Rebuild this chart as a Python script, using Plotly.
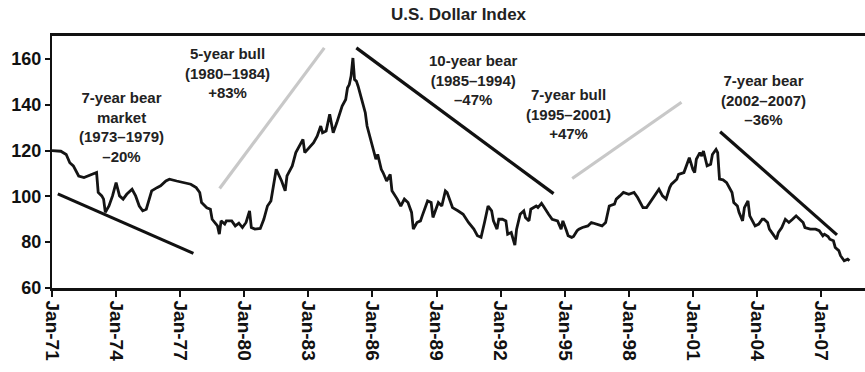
import plotly.graph_objects as go

# U.S. Dollar Index, month-end readings
dates = [
    "1971-01", "1971-06", "1971-09", "1971-11", "1972-01", "1972-04", "1972-07", "1972-11",
    "1973-02", "1973-03", "1973-05", "1973-06", "1973-07", "1973-09", "1973-11",
    "1974-01", "1974-03", "1974-05", "1974-07", "1974-10", "1974-12",
    "1975-02", "1975-04", "1975-06", "1975-08", "1975-09", "1975-12",
    "1976-02", "1976-05", "1976-07", "1976-11",
    "1977-04", "1977-07", "1977-10", "1977-12",
    "1978-01", "1978-04", "1978-06", "1978-07", "1978-10", "1978-11", "1978-12",
    "1979-02", "1979-03", "1979-06", "1979-08", "1979-10", "1979-12",
    "1980-02", "1980-04", "1980-05", "1980-07", "1980-10", "1980-12",
    "1981-02", "1981-04", "1981-05", "1981-07", "1981-10", "1981-12",
    "1982-01", "1982-04", "1982-06", "1982-07", "1982-10", "1982-11",
    "1983-02", "1983-04", "1983-06", "1983-08", "1983-09", "1983-11",
    "1984-01", "1984-03", "1984-05", "1984-07", "1984-08", "1984-10", "1984-11", "1984-12",
    "1985-01", "1985-02", "1985-03", "1985-04", "1985-05", "1985-07", "1985-09", "1985-10", "1985-12",
    "1986-01", "1986-03", "1986-04", "1986-05", "1986-06", "1986-07", "1986-09", "1986-11", "1986-12",
    "1987-03", "1987-05", "1987-07", "1987-09", "1987-11", "1987-12",
    "1988-02", "1988-04", "1988-05", "1988-07", "1988-08", "1988-10", "1988-11",
    "1989-01", "1989-02", "1989-04", "1989-06", "1989-07", "1989-09", "1989-10",
    "1990-01", "1990-04", "1990-07", "1990-10", "1990-12",
    "1991-02", "1991-04", "1991-06", "1991-08", "1991-09", "1991-11", "1991-12",
    "1992-02", "1992-04", "1992-05", "1992-07", "1992-09", "1992-10", "1992-12",
    "1993-02", "1993-03", "1993-05", "1993-06", "1993-09", "1993-10", "1993-12",
    "1994-01", "1994-03", "1994-04", "1994-06", "1994-09", "1994-11", "1994-12",
    "1995-02", "1995-03", "1995-05", "1995-06", "1995-08", "1995-09", "1995-11",
    "1996-01", "1996-02", "1996-04", "1996-07", "1996-10", "1996-12",
    "1997-01", "1997-02", "1997-05", "1997-06", "1997-08", "1997-10",
    "1998-01", "1998-04", "1998-06", "1998-09", "1998-11",
    "1999-02", "1999-04", "1999-06", "1999-08", "1999-10", "1999-12",
    "2000-01", "2000-04", "2000-05", "2000-08", "2000-10", "2000-11",
    "2001-01", "2001-02", "2001-03", "2001-05", "2001-06", "2001-07", "2001-09", "2001-11", "2001-12",
    "2002-02", "2002-03", "2002-04", "2002-06", "2002-08", "2002-11", "2002-12",
    "2003-02", "2003-03", "2003-05", "2003-06", "2003-08", "2003-09", "2003-12",
    "2004-02", "2004-04", "2004-05", "2004-07", "2004-08", "2004-10", "2004-12",
    "2005-01", "2005-03", "2005-05", "2005-07", "2005-09", "2005-11",
    "2006-01", "2006-03", "2006-04", "2006-07", "2006-10", "2006-12",
    "2007-02", "2007-03", "2007-05", "2007-06", "2007-08", "2007-09", "2007-11", "2007-12",
    "2008-02", "2008-04", "2008-05",
]
index_values = [
    120.0, 119.7, 118.3, 114.7, 113.3, 108.9, 108.2, 109.6,
    110.4, 101.7, 100.2, 98.8, 93.0, 95.8, 100.2,
    106.0, 100.2, 98.8, 100.9, 103.1, 100.2,
    95.8, 93.7, 94.4, 100.2, 102.4, 103.8,
    104.6, 106.7, 107.5, 106.7,
    106.0, 105.3, 103.8, 101.7,
    97.3, 95.0, 94.4, 90.0, 87.1, 83.5, 89.3,
    87.9, 89.3, 89.3, 87.1, 88.3, 86.4,
    88.6, 93.7, 86.4, 85.7, 86.0, 90.0,
    95.8, 98.0, 103.1, 111.8, 106.7, 102.4,
    108.9, 113.3, 119.1, 120.5, 124.9, 119.1,
    122.0, 123.4, 126.3, 130.7, 127.8, 128.5,
    135.8, 127.8, 132.1, 136.5, 139.4, 142.3, 147.4, 148.8,
    152.5, 160.4, 151.0, 150.3, 148.1, 142.3, 136.5, 130.7, 124.9,
    122.0, 116.2, 118.3, 114.7, 111.8, 110.4, 106.7, 109.6, 102.4,
    98.8, 95.8, 98.8, 97.3, 93.0, 85.7,
    88.6, 89.3, 91.5, 95.8, 98.0, 97.3, 90.8,
    95.1, 97.3, 95.8, 102.4, 101.7, 97.3, 95.1,
    93.7, 92.2, 88.6, 85.7, 82.8,
    82.1, 88.6, 95.8, 93.7, 89.3, 85.7, 90.0,
    90.0, 89.3, 83.5, 84.2, 78.7, 85.7, 92.2,
    93.7, 90.8, 89.3, 94.4, 95.8, 95.1, 97.0,
    95.8, 93.0, 92.2, 90.0, 89.3, 85.7, 89.3,
    85.0, 82.8, 82.1, 82.5, 85.0, 85.7, 86.4,
    87.1, 87.1, 88.6, 87.9, 87.1, 88.6,
    93.0, 95.8, 96.6, 98.8, 100.2, 101.7,
    100.9, 101.7, 99.5, 95.1, 95.1,
    98.8, 100.9, 103.1, 100.2, 98.8, 103.8,
    105.3, 107.5, 109.6, 110.4, 114.7, 116.9,
    111.8, 110.4, 116.2, 119.1, 117.6, 119.8, 113.3, 114.0, 118.3,
    120.5, 119.1, 107.5, 107.2, 106.0, 101.7, 97.3,
    95.8, 93.0, 89.3, 95.1, 98.0, 91.5, 87.1,
    87.9, 90.0, 90.0, 88.6, 85.7, 83.5, 81.3,
    84.2, 86.4, 90.0, 88.6, 90.0, 91.5,
    90.0, 88.6, 86.4, 85.7, 85.7, 85.0,
    82.8, 83.5, 82.5, 81.3, 80.6, 77.7, 76.3, 74.1,
    71.9, 72.6, 71.9,
]

# Trend lines for each bull / bear phase: (start date, end date), (start value, end value), colour
trend_dates = [
    ("1971-04-10", "1977-08-15"),
    ("1978-11-06", "1983-10-01"),
    ("1985-04-01", "1994-06-25"),
    ("1995-05-10", "2000-06-20"),
    ("2002-04-12", "2007-10-01"),
]
trend_values = [
    (101.1, 75.1),
    (103.4, 164.8),
    (164.8, 101.2),
    (107.8, 141.1),
    (128.2, 83.2),
]
trend_colors = ["#111111", "#c8c8c8", "#111111", "#c8c8c8", "#111111"]

# Phase labels and their anchor points
phase_labels = [
    "7-year bear<br>market<br>(1973–1979)<br>–20%",
    "5-year bull<br>(1980–1984)<br>+83%",
    "10-year bear<br>(1985–1994)<br>–47%",
    "7-year bull<br>(1995–2001)<br>+47%",
    "7-year bear<br>(2002–2007)<br>–36%",
]
label_dates = ["1974-04-01", "1979-03-20", "1990-10-01", "1995-03-15", "2004-04-20"]
label_values = [130.4, 153.8, 151.0, 135.8, 142.0]

tick_dates = [f"{y}-01-01" for y in range(1971, 2008, 3)]
tick_text = [f"Jan-{str(y)[2:]}" for y in range(1971, 2008, 3)]
y_ticks = [60, 80, 100, 120, 140, 160]

FONT = "Liberation Sans, Arial, Helvetica, sans-serif"

fig = go.Figure()

for (d0, d1), (v0, v1), col in zip(trend_dates, trend_values, trend_colors):
    fig.add_trace(go.Scatter(
        x=[d0, d1], y=[v0, v1], mode="lines",
        line=dict(color=col, width=3.2), hoverinfo="skip", showlegend=False,
    ))

fig.add_trace(go.Scatter(
    x=dates, y=index_values, mode="lines",
    line=dict(color="#141414", width=2.8),
    showlegend=False, name="U.S. Dollar Index",
))

for text, d, v in zip(phase_labels, label_dates, label_values):
    fig.add_annotation(
        x=d, y=v, xref="x", yref="y", text=f"<b>{text}</b>", showarrow=False,
        font=dict(family=FONT, size=15, color="#222222"), align="center",
    )

fig.update_layout(
    width=865, height=372,
    margin=dict(l=52, r=0, t=36, b=84),
    paper_bgcolor="white", plot_bgcolor="white",
    title=dict(
        text="<b>U.S. Dollar Index</b>", x=0.5, xref="paper", xanchor="center",
        y=1 - 14 / 372, yref="container", yanchor="middle",
        font=dict(family=FONT, size=17, color="#222222"),
    ),
    xaxis=dict(
        type="date", range=["1971-01-01", "2009-01-22"],
        tickvals=tick_dates, ticktext=tick_text, tickangle=90,
        tickfont=dict(family=FONT, size=19, color="#111111", weight="bold"),
        ticks="outside", ticklen=6, tickwidth=1.5, tickcolor="#111111",
        showline=True, linecolor="#111111", linewidth=2.5, mirror=True,
        showgrid=False, zeroline=False,
    ),
    yaxis=dict(
        range=[60, 170], tickvals=y_ticks,
        tickfont=dict(family=FONT, size=18, color="#111111", weight="bold"),
        ticks="outside", ticklen=5, tickwidth=1.5, tickcolor="#111111",
        showline=True, linecolor="#111111", linewidth=2,
        showgrid=False, zeroline=False,
    ),
)

fig.write_html("out.html")
